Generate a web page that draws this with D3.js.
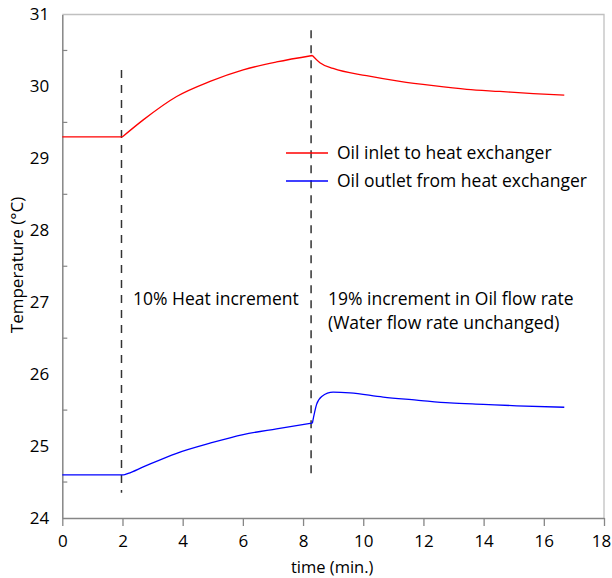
<!DOCTYPE html>
<html>
<head>
<meta charset="utf-8">
<script src="https://cdn.jsdelivr.net/npm/d3@7"></script>
<style>
	body { margin: 0; background: #fff; }
	svg { display: block; font-family: 'Open Sans', sans-serif; }
</style>
</head>
<body>
<svg id="chart" width="612" height="578"></svg>
<script>
// values
const inletTime = [0, 2, 2.69, 3.8, 4.91, 6.01, 7.12, 8.31, 8.56, 9.0, 10.11, 11.22, 12.33, 13.44, 14.54, 15.65, 16.68];
const inletTemp = [29.3, 29.3, 29.535, 29.86, 30.07, 30.23, 30.34, 30.43, 30.33, 30.25, 30.15, 30.07, 30.01, 29.96, 29.93, 29.9, 29.88];
const outletTime = [0, 2.03, 2.19, 2.69, 3.8, 4.91, 6.01, 7.12, 8.31, 8.45, 8.62, 9.0, 9.56, 10.66, 11.77, 12.88, 13.99, 15.1, 16.68];
const outletTemp = [24.6, 24.6, 24.62, 24.71, 24.9, 25.04, 25.16, 25.24, 25.32, 25.58, 25.69, 25.75, 25.74, 25.68, 25.64, 25.6, 25.58, 25.56, 25.54];
// indices where the curves have a corner
const inletCorners = [1, 7];
const outletCorners = [8];
const seriesNames = ['Oil inlet to heat exchanger', 'Oil outlet from heat exchanger'];
const seriesColors = ['#ff0000', '#0000ff'];
const markerTime = [2, 8.3];
const markerFrom = [30.23, 30.78];
const markerTo = [24.35, 24.58];
const xTicks = [0, 2, 4, 6, 8, 10, 12, 14, 16, 18];
const yTicks = [24, 25, 26, 27, 28, 29, 30, 31];
const yMinor = [24.5, 25.5, 26.5, 27.5, 28.5, 29.5, 30.5];

const margin = { top: 14.5, right: 8, bottom: 60, left: 62.3 };
const width = 612 - margin.left - margin.right;
const height = 578 - margin.top - margin.bottom;

const svg = d3.select('#chart');
const g = svg.append('g')
	.attr('transform', `translate(${ margin.left }, ${ margin.top })`);

const x = d3.scaleLinear().domain([0, 18]).range([0, width]);
const y = d3.scaleLinear().domain([24, 31]).range([height, 0]);

// frame: top and right in light grey
g.append('path')
	.attr('d', `M0,0H${ width }V${ height }`)
	.attr('fill', 'none')
	.attr('stroke', '#c0c0c0')
	.attr('stroke-width', 1.3);

// x axis
const xAxis = g.append('g')
	.attr('transform', `translate(0, ${ height })`)
	.call(d3.axisBottom(x).tickValues(xTicks).tickSize(8).tickPadding(9).tickSizeOuter(0));
xAxis.select('.domain').attr('stroke', '#868686').attr('stroke-width', 1.5);
xAxis.selectAll('.tick line').attr('stroke', '#868686').attr('stroke-width', 1.3);
xAxis.selectAll('.tick text')
	.attr('font-size', 17)
	.attr('font-family', "'Open Sans', sans-serif")
	.attr('fill', '#000')
	.attr('dx', (d) => d === 18 ? -3 : 0);

// y axis
const yAxis = g.append('g')
	.call(d3.axisLeft(y).tickValues(yTicks).tickFormat(d3.format('d')).tickSize(0).tickPadding(13).tickSizeOuter(0));
yAxis.select('.domain').attr('stroke', '#868686').attr('stroke-width', 1.5);
yAxis.selectAll('.tick text')
	.attr('font-size', 17)
	.attr('font-family', "'Open Sans', sans-serif")
	.attr('fill', '#000');

// minor ticks inside
g.append('g')
	.selectAll('line')
	.data(yMinor)
	.join('line')
		.attr('x1', 0)
		.attr('x2', 5)
		.attr('y1', (d) => y(d))
		.attr('y2', (d) => y(d))
		.attr('stroke', '#868686')
		.attr('stroke-width', 1.2);

// axis titles
svg.append('text')
	.attr('x', margin.left + width / 2 - 1)
	.attr('y', 573)
	.attr('text-anchor', 'middle')
	.attr('font-size', 16.5)
	.text('time (min.)');

svg.append('text')
	.attr('transform', 'translate(23, 265) rotate(-90)')
	.attr('text-anchor', 'middle')
	.attr('font-size', 17)
	.text('Temperature (\u00B0C)');

// dashed event markers
g.append('g')
	.selectAll('line')
	.data(markerTime)
	.join('line')
		.attr('x1', (d) => x(d) - 1)
		.attr('x2', (d) => x(d) - 1)
		.attr('y1', (d, i) => y(markerFrom[i]))
		.attr('y2', (d, i) => y(markerTo[i]))
		.attr('stroke', '#333')
		.attr('stroke-width', 1.5)
		.attr('stroke-dasharray', '8,7');

// series lines, smooth between corners
const line = d3.line()
	.x((d) => x(d[0]))
	.y((d) => y(d[1]))
	.curve(d3.curveMonotoneX);

const splitAt = (points, corners) => {
	const cuts = [0, ...corners, points.length - 1];
	return d3.pairs(cuts).map(([a, b]) => points.slice(a, b + 1));
};

const series = [
	splitAt(d3.zip(inletTime, inletTemp), inletCorners),
	splitAt(d3.zip(outletTime, outletTemp), outletCorners),
];

g.append('g')
	.selectAll('path')
	.data(series)
	.join('path')
		.attr('d', (parts) => parts.map(line).join(''))
		.attr('fill', 'none')
		.attr('stroke', (d, i) => seriesColors[i])
		.attr('stroke-width', 1.3)
		.attr('stroke-linejoin', 'round');

// legend
const legend = svg.append('g')
	.attr('transform', 'translate(286, 153)');
const item = legend.selectAll('g')
	.data(seriesNames)
	.join('g')
		.attr('transform', (d, i) => `translate(0, ${ i * 28 })`);
item.append('line')
	.attr('x1', 0)
	.attr('x2', 42)
	.attr('stroke', (d, i) => seriesColors[i])
	.attr('stroke-width', 1.3);
item.append('text')
	.attr('x', 51)
	.attr('y', 6)
	.attr('font-size', 17.5)
	.text((d) => d);

// annotations
svg.append('text')
	.attr('x', 133)
	.attr('y', 305)
	.attr('font-size', 17.5)
	.text('10% Heat increment');
const note = svg.append('text')
	.attr('font-size', 17.5);
note.append('tspan').attr('x', 328).attr('y', 305).text('19% increment in Oil flow rate');
note.append('tspan').attr('x', 328).attr('y', 329).text('(Water flow rate unchanged)');
</script>
</body>
</html>
